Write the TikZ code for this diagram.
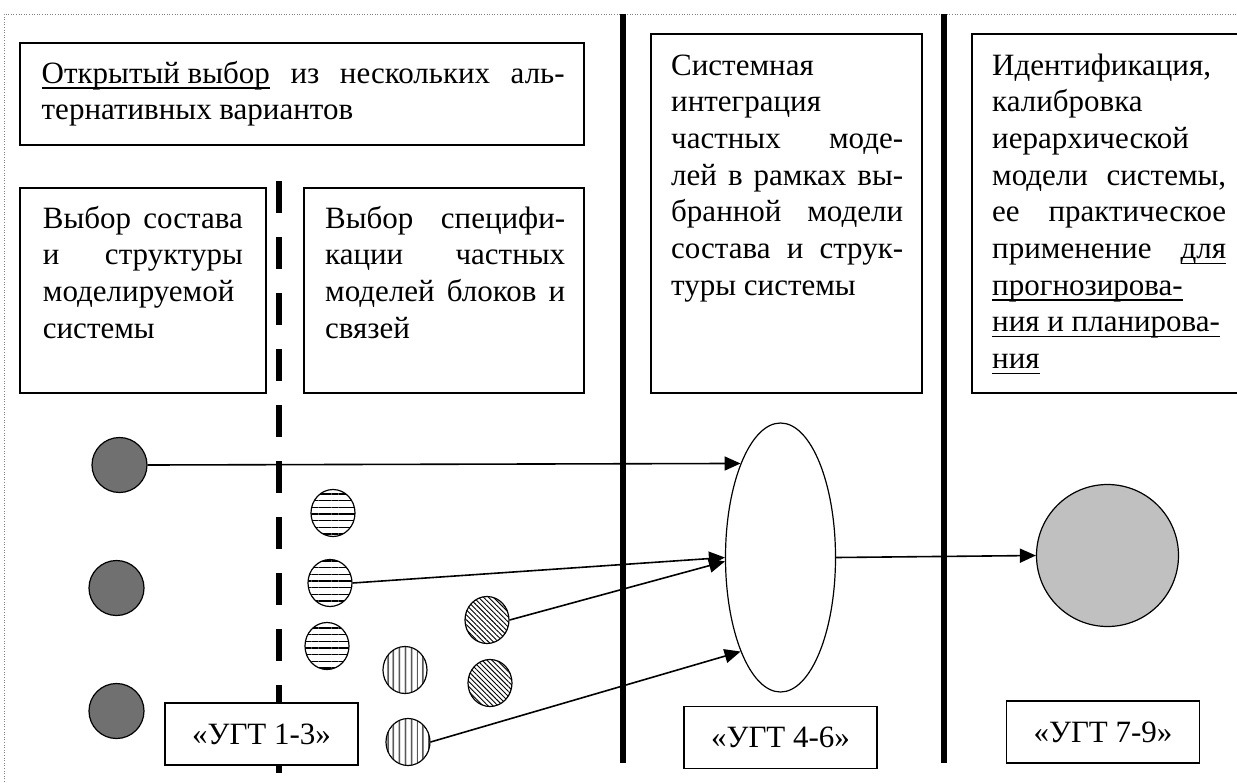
\documentclass[tikz,border=0pt]{standalone}
\usepackage{fontspec}
\setmainfont{Liberation Serif}
\usetikzlibrary{arrows.meta,shapes.geometric,patterns.meta}
\definecolor{darkfill}{RGB}{112,112,112}
\definecolor{lightfill}{RGB}{192,192,192}
\newlength\lnw
\newcommand\bodyfont{\fontsize{31}{36.7}\selectfont}
\newcommand\jline[1]{\hbox to \lnw{#1}}
\newcommand\lline[1]{\hbox to \lnw{#1\hfil}}
\newcommand\myul[1]{\setbox0=\hbox{#1}\rlap{\rule[-5.5pt]{\wd0}{1.4pt}}\box0\relax}
\newcommand\txtbox[2]{\parbox[t]{#1}{\setlength\lnw{#1}\bodyfont #2}}
\hbadness=10000
\hfuzz=20pt
\begin{document}
\begin{tikzpicture}[x=1pt,y=-1pt,
  frame/.style={draw,line width=1.4pt,fill=white},
  textnode/.style={inner sep=0pt,anchor=base west},
  label/.style={draw,line width=1.4pt,fill=white,minimum width=193pt,minimum height=62pt,inner sep=0pt,font=\bodyfont},
  darkdot/.style={circle,draw,line width=1.2pt,fill=darkfill,minimum size=55pt,inner sep=0pt},
  hatch/.style={ellipse,draw,line width=1.2pt,fill=white,minimum width=44pt,minimum height=47pt,inner sep=0pt},
  hdot/.style={hatch,postaction={pattern={Lines[angle=0,distance=6.7pt,line width=1.3pt]}}},
  vdot/.style={hatch,postaction={pattern={Lines[angle=90,distance=6.4pt,line width=1.2pt]}}},
  sdot/.style={hatch,postaction={pattern={Lines[angle=-45,distance=3.5pt,line width=0.9pt]}}},
  link/.style={line width=1.6pt,-{Triangle[length=16pt,width=14pt]}},
  sep/.style={line width=6pt}
]
\useasboundingbox (0,0) rectangle (1237,782);
\fill[white] (0,0) rectangle (1237,782);
% dotted outer frame
\draw[gray,line width=0.9pt,dash pattern=on 1pt off 1.6pt] (4,782) -- (4,14) -- (1237,14);
% separators
\draw[sep] (623,14) -- (623,763);
\draw[sep] (944,14) -- (944,763);
\draw[line width=5.5pt,dash pattern=on 32pt off 24pt] (279,181) -- (279,773);
% text frames
\node[frame,minimum width=564pt,minimum height=102pt,inner sep=0pt] (topbox) at (302,94) {};
\node[frame,minimum width=246pt,minimum height=205pt,inner sep=0pt] (leftbox) at (143,290.5) {};
\node[frame,minimum width=280pt,minimum height=205pt,inner sep=0pt] (specbox) at (444,290.5) {};
\node[frame,minimum width=271pt,minimum height=359pt,inner sep=0pt] (intbox) at (786.5,213.5) {};
\node[frame,minimum width=280pt,minimum height=359pt,inner sep=0pt] (idbox) at (1112,213.5) {};
% texts
\node[textnode] (toptext) at (41.5,83) {\txtbox{523pt}{%
  \jline{\myul{Открытый выбор} из нескольких аль-}%
  \lline{тернативных вариантов}}};
\node[textnode] (lefttext) at (42.7,228) {\txtbox{200pt}{%
  \jline{Выбор состава}%
  \jline{и структуры}%
  \lline{моделируемой}%
  \lline{системы}}};
\node[textnode] (spectext) at (325,228) {\txtbox{240pt}{%
  \jline{Выбор специфи-}%
  \jline{кации частных}%
  \jline{моделей блоков и}%
  \lline{связей}}};
\node[textnode] (inttext) at (671,75) {\txtbox{232pt}{%
  \lline{Системная}%
  \lline{интеграция}%
  \jline{частных моде-}%
  \jline{лей в рамках вы-}%
  \jline{бранной модели}%
  \jline{состава и струк-}%
  \lline{туры системы}}};
\node[textnode] (idtext) at (992,75) {\txtbox{234pt}{%
  \lline{Идентификация,}%
  \lline{калибровка}%
  \lline{иерархической}%
  \jline{модели системы,}%
  \jline{ее практическое}%
  \jline{применение \myul{для}}%
  \lline{\myul{прогнозирова-}}%
  \lline{\myul{ния и планирова-}}%
  \lline{\myul{ния}}}};
% dots
\node[darkdot] (d1) at (119.5,465) {};
\node[darkdot] (d2) at (116.5,588) {};
\node[darkdot] (d3) at (116.5,711) {};
\node[hdot] (h1) at (333,513) {};
\node[hdot] (h2) at (330,583) {};
\node[hdot] (h3) at (327,646) {};
\node[vdot] (v1) at (405,670) {};
\node[vdot] (v2) at (408,742) {};
\node[sdot] (s1) at (487,620) {};
\node[sdot] (s2) at (490,683) {};
\node[ellipse,draw,line width=1.2pt,fill=white,minimum width=110pt,minimum height=269pt,inner sep=0pt] (E) at (780.5,557.5) {};
\node[circle,draw,line width=1.2pt,fill=lightfill,minimum size=142pt,inner sep=0pt] (G) at (1107.5,555.5) {};
% labels
\node[label] (ugt13) at (261.5,734) {«УГТ 1-3»};
\node[label] (ugt46) at (780.5,737.5) {«УГТ 4-6»};
\node[label] (ugt79) at (1103,732) {«УГТ 7-9»};
% connectors
\draw[link] (d1.east) -- (E.113);
\draw[link] (h2.east) -- (E.west);
\draw[link] (s1.east) -- (E.184);
\draw[link] (v2.east) -- (E.247);
\draw[link] (E.east) -- (G.west);
\end{tikzpicture}
\end{document}
